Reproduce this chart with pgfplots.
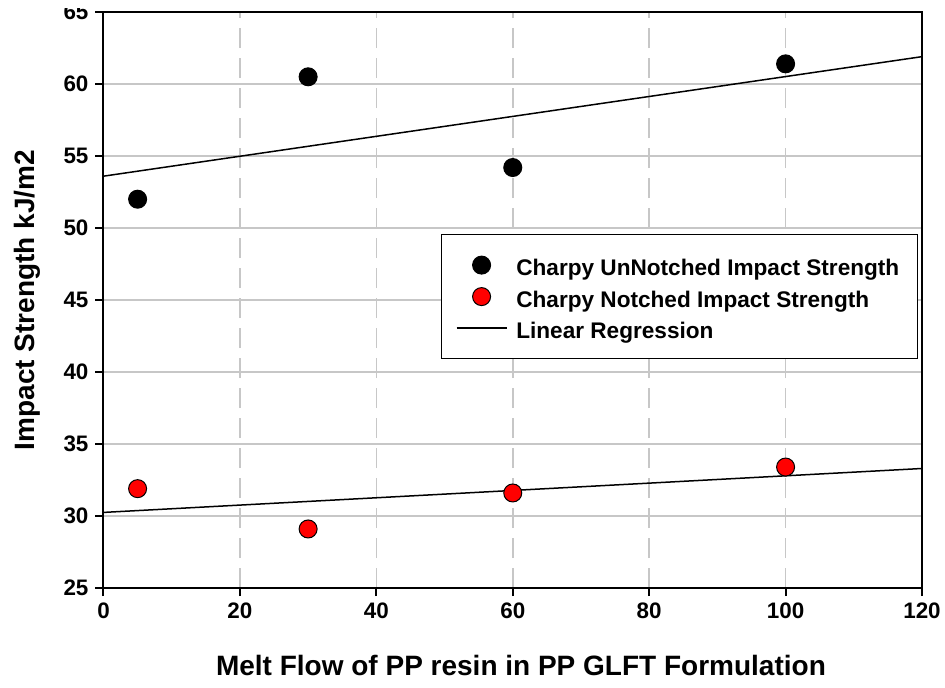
\documentclass[border=0pt]{standalone}
\usepackage{pgfplots}
\pgfplotsset{compat=1.18}
\usepackage{fontspec}
\setmainfont{Liberation Sans}
\pgfplotsset{
  markleg/.style={legend image code/.code={\draw[mark repeat=2,mark phase=2,##1] plot coordinates {(0pt,0pt) (12.5pt,0pt) (25pt,0pt)};}},
  lineleg/.style={legend image code/.code={\draw[##1] (0pt,0pt) -- (25pt,0pt);}},
}
\begin{document}
\begin{tikzpicture}
\begin{axis}[
  scale only axis, width=409.25pt, height=288pt,
  xmin=0, xmax=120, ymin=25, ymax=65,
  xtick={0,20,...,120}, ytick={25,30,...,65},
  tick align=outside, xtick pos=bottom, ytick pos=left,
  major tick length=4pt,
  axis line style={line width=1pt},
  every tick/.style={black, line width=1pt},
  xmajorgrids, ymajorgrids,
  x grid style={black!22, line width=0.8pt, dash pattern=on 10pt off 5pt},
  y grid style={black!22, line width=0.8pt},
  /pgf/number format/assume math mode=true,
  ticklabel style={font=\fontsize{11.2}{13}\selectfont\bfseries},
  xlabel={Melt Flow of PP resin in PP GLFT Formulation},
  ylabel={Impact Strength kJ/m2},
  label style={font=\fontsize{14}{16}\selectfont\bfseries},
  xlabel style={at={(axis description cs:0.51,-0.1337)}, anchor=center},
  ylabel style={at={(axis description cs:-0.0935,0.5)}, anchor=center},
  legend cell align=left,
  legend style={at={(rel axis cs:0.995,0.6146)}, anchor=north east, draw=black, line width=0.6pt,
    font=\fontsize{11.3}{13}\selectfont\bfseries, inner xsep=7pt, inner ysep=7pt,
    row sep=-0.75pt,
    nodes={text height=11.5pt, text depth=1pt},
    /tikz/every odd column/.append style={column sep=2.5pt}},
]
\coordinate (o) at (rel axis cs:0,0);
\addplot[black, line width=0.75pt, forget plot] coordinates {(0,53.6) (120,61.9)};
\addplot[black, line width=0.75pt, forget plot] coordinates {(0,30.25) (120,33.3)};
\addplot[only marks, mark=*, mark size=4.5pt, mark options={fill=black, draw=black, line width=0.5pt}, markleg]
  coordinates {(5,52) (30,60.5) (60,54.2) (100,61.4)};
\addlegendentry{Charpy UnNotched Impact Strength}
\addplot[only marks, mark=*, mark size=4.5pt, mark options={fill=red, draw=black, line width=0.5pt}, markleg]
  coordinates {(5,31.9) (30,29.1) (60,31.6) (100,33.4)};
\addlegendentry{Charpy Notched Impact Strength}
\addlegendimage{black, line width=0.75pt, lineleg}
\addlegendentry{Linear Regression}
\end{axis}
\fill[white] ([shift={(-51.75pt,290pt)}]o) rectangle ([shift={(-5pt,295pt)}]o);
\pgfresetboundingbox
\path ([shift={(-51.75pt,-49.5pt)}]o) rectangle ([shift={(420.75pt,294pt)}]o);
\end{tikzpicture}
\end{document}
